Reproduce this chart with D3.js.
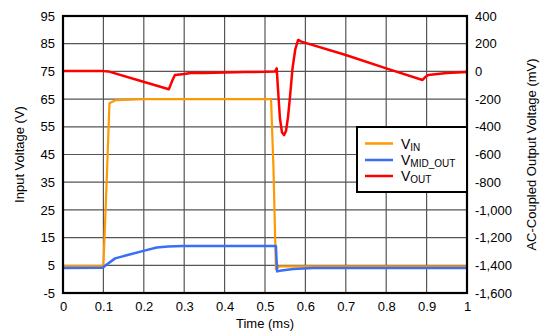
<!DOCTYPE html>
<html><head><meta charset="utf-8">
<script src="https://cdn.jsdelivr.net/npm/d3@7"></script>
<style>body{margin:0;background:#fff}svg{display:block}text{font-family:"Liberation Sans",Arial,sans-serif}</style>
</head><body><svg id="c" width="544" height="332"></svg>
<script>
const xTicks=[0,0.1,0.2,0.3,0.4,0.5,0.6,0.7,0.8,0.9,1];
const yLeftTicks=[-5,5,15,25,35,45,55,65,75,85,95];
const yRightTicks=[-1600,-1400,-1200,-1000,-800,-600,-400,-200,0,200,400];
const vinT=[0,0.1,0.108,0.115,0.13,0.2,0.515,0.521,0.527,0.535,1];
const vinV=[4.7,4.7,35,63.5,64.6,65,65,40,3.5,4.6,4.6];
const vmidT=[0,0.098,0.11,0.129,0.16,0.199,0.232,0.26,0.297,0.527,0.53,0.541,0.57,0.62,1];
const vmidV=[4.0,4.1,5.5,7.5,8.7,10.2,11.4,11.8,12.0,12.0,2.8,3.1,3.7,4.0,4.0];
const voutT=[0,0.05,0.1,0.112,0.199,0.262,0.27,0.277,0.3,0.32,0.35,0.4,0.45,0.5,0.525,0.529,0.532,0.537,0.542,0.547,0.552,0.557,0.562,0.568,0.575,0.582,0.59,0.7,0.8,0.89,0.897,0.904,0.95,1];
const voutV=[3,2,2,0,-75,-129,-70,-26,-19,-10,-12,-8,-5,-3,0,22,-120,-340,-440,-460,-430,-330,-180,20,160,227,215,118,22,-62,-40,-26,-12,-4];
const seriesNames=["V","V","V"],seriesSubs=["IN","MID_OUT","OUT"];
const colors=["#FF9900","#3B6EF6","#FF0000"];

const loc=d3.formatLocale({decimal:".",thousands:",",grouping:[3],currency:["$",""],minus:"-"});
const svg=d3.select("#c");
const L=63,R=467,T=16,B=293;
const x=d3.scaleLinear().domain([0,1]).range([L,R]);
const yl=d3.scaleLinear().domain([-5,95]).range([B,T]);
const yr=d3.scaleLinear().domain([-1600,400]).range([B,T]);

const g=svg.append("g");
g.selectAll(".vg").data(xTicks).join("line").attr("x1",d=>x(d)).attr("x2",d=>x(d)).attr("y1",T).attr("y2",B).attr("stroke","#555").attr("stroke-width",1.2);
g.selectAll(".hg").data(yLeftTicks).join("line").attr("x1",L).attr("x2",R).attr("y1",d=>yl(d)).attr("y2",d=>yl(d)).attr("stroke","#555").attr("stroke-width",1.2);

const ax=d3.axisBottom(x).tickValues(xTicks).tickSize(0).tickPadding(9).tickFormat(d=>d===0||d===1?loc.format("d")(d):loc.format(".1f")(d));
const axG=svg.append("g").attr("transform",`translate(0,${B})`).call(ax);
const al=d3.axisLeft(yl).tickValues(yLeftTicks).tickSize(0).tickPadding(8).tickFormat(loc.format("d"));
const alG=svg.append("g").attr("transform",`translate(${L},0)`).call(al);
const ar=d3.axisRight(yr).tickValues(yRightTicks).tickSize(0).tickPadding(8).tickFormat(loc.format(","));
const arG=svg.append("g").attr("transform",`translate(${R},0)`).call(ar);
[axG,alG,arG].forEach(a=>{a.select(".domain").remove();a.selectAll("text").attr("font-size",13).attr("fill","#000").attr("font-family","Liberation Sans, Arial, sans-serif");});

const mk=(ts,vs)=>ts.map((t,i)=>[t,vs[i]]);
const lineL=d3.line().x(d=>x(d[0])).y(d=>yl(d[1]));
const lineR=d3.line().x(d=>x(d[0])).y(d=>yr(d[1]));
svg.append("path").datum(mk(vinT,vinV)).attr("d",lineL).attr("fill","none").attr("stroke",colors[0]).attr("stroke-width",2.2).attr("stroke-linejoin","round");
svg.append("path").datum(mk(vmidT,vmidV)).attr("d",lineL).attr("fill","none").attr("stroke",colors[1]).attr("stroke-width",2.5).attr("stroke-linejoin","round");
svg.append("path").datum(mk(voutT,voutV)).attr("d",lineR).attr("fill","none").attr("stroke",colors[2]).attr("stroke-width",2.5).attr("stroke-linejoin","round");

svg.append("rect").attr("x",L).attr("y",T).attr("width",R-L).attr("height",B-T).attr("fill","none").attr("stroke","#000").attr("stroke-width",2.2);

const lg=svg.append("g");
lg.append("rect").attr("x",357).attr("y",127).attr("width",R-357).attr("height",65).attr("fill","#fff").attr("stroke","#000").attr("stroke-width",2);
const ly=[143.5,160,176];
seriesNames.forEach((n,i)=>{
  lg.append("line").attr("x1",365).attr("x2",393).attr("y1",ly[i]).attr("y2",ly[i]).attr("stroke",colors[i]).attr("stroke-width",2.5);
  const t=lg.append("text").attr("x",401).attr("y",ly[i]+5).attr("font-size",14).attr("fill","#000");
  t.append("tspan").text(n);
  t.append("tspan").attr("font-size",10).attr("dy",2).text(seriesSubs[i]);
});

svg.append("text").attr("transform",`translate(24,${(T+B)/2}) rotate(-90)`).attr("text-anchor","middle").attr("font-size",13).text("Input Voltage (V)");
svg.append("text").attr("transform",`translate(536,${(T+B)/2}) rotate(-90)`).attr("text-anchor","middle").attr("font-size",13).text("AC-Coupled Output Voltage (mV)");
svg.append("text").attr("x",(L+R)/2).attr("y",328).attr("text-anchor","middle").attr("font-size",13).text("Time (ms)");
</script></body></html>
